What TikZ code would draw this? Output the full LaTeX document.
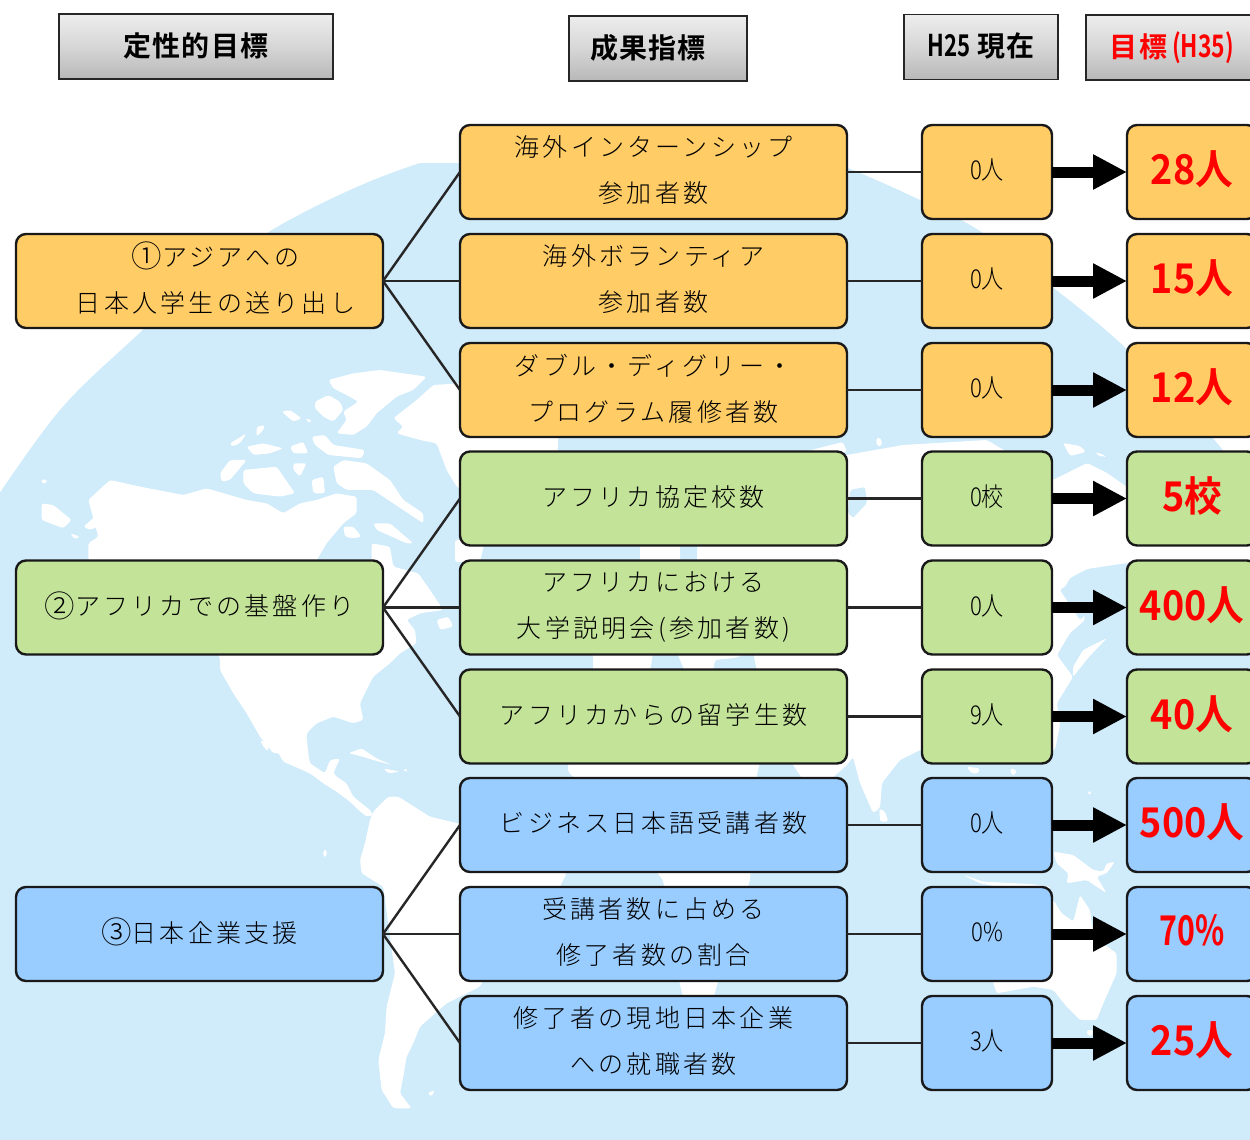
\documentclass[tikz,border=0pt]{standalone}
\usepackage{fontspec}
\usetikzlibrary{arrows.meta}
\newfontfamily\jpf[LetterSpace=13]{Noto Sans CJK JP Light}
\newfontfamily\jpb[LetterSpace=4]{Noto Sans CJK JP Bold}
\newfontfamily\dgf[FakeStretch=0.85]{Noto Sans CJK JP Light}
\newfontfamily\dgb[FakeStretch=0.92]{Noto Sans CJK JP Bold}
\newfontfamily\dgn[FakeStretch=0.74]{Noto Sans CJK JP Bold}
\newcommand{\circno}[1]{\raisebox{-1.5pt}{\scalebox{1.22}{#1}}}
\definecolor{globe}{HTML}{D0EBFA}
\definecolor{orng}{HTML}{FFCC66}
\definecolor{grn}{HTML}{C2E398}
\definecolor{blu}{HTML}{99CCFF}
\tikzset{
 land/.style={fill=white,draw=none,rounded corners=2.5pt},
 sea/.style={fill=globe,draw=none,rounded corners=2pt},
 liftup/.style={execute at end node={\vrule width 0pt height 0pt depth #1}},
 hdr/.style={draw=black!85,line width=1.8pt,top color=black!7,bottom color=black!28,middle color=black!16,inner sep=0pt,outer sep=0pt,minimum height=65pt,liftup=4.5pt,font=\jpb\fontsize{28}{32}\selectfont},
 rowbox/.style={draw=black!90,line width=2.4pt,rounded corners=10pt,inner sep=0pt,outer sep=0pt,minimum height=94pt,align=center,text=black,liftup=5pt},
 leftbox/.style={rowbox,minimum width=367pt,liftup=7.5pt,font=\jpf\fontsize{25}{46}\selectfont},
 midbox/.style={rowbox,minimum width=387pt,font=\jpf\fontsize{25}{46}\selectfont},
 curbox/.style={rowbox,minimum width=130pt,liftup=4pt,font=\dgf\fontsize{26}{30}\selectfont},
 tarbox/.style={rowbox,minimum width=130pt,text=red,font=\dgb\fontsize{41}{46}\selectfont,liftup=8pt},
 lnk/.style={draw=black!85,line width=2.4pt},
 gain/.style={draw=black,line width=11pt,-{Triangle[length=34pt,width=33pt]}}
}
\begin{document}
\begin{tikzpicture}[x=1pt,y=-1pt]
\useasboundingbox (0,0) rectangle (1250,1140);
\begin{scope}
\clip (0,163) rectangle (1250,1140);
\fill[globe] plot[smooth,tension=.6] coordinates {(-5,500) (60,410) (132,340) (200,280) (272,230) (350,190) (420,163) (500,140) (625,130) (760,140) (835,163) (920,200) (983,233) (1050,285) (1117,340) (1170,395) (1217,443) (1255,495)} -- (1255,1145) -- (-5,1145) -- cycle;
% Eurasia and Africa
\fill[land] (903,445)--(987,440)--(1053,480)--(1073,470)--(1087,463)--(1107,473)--(1127,487)--(1250,510)--(1250,565)--(1127,563)--(1087,569)--(1070,578)--(1063,590)--(1080,597)--(1085,620)--(1070,633)--(1057,655)--(1073,677)--(1057,703)--(1060,725)--(1055,750)--(920,750)--(900,760)--(882,783)--(880,808)--(873,813)--(860,783)--(853,757)--(847,765)--(830,780)--(803,780)--(790,760)--(765,740)--(757,775)--(750,880)--(717,985)--(705,1030)--(692,1030)--(680,985)--(663,880)--(600,800)--(568,772)--(570,720)--(593,672)--(593,640)--(653,610)--(697,600)--(697,548)--(720,480)--(847,455)--cycle;
\fill[land] (640,530)--(680,530)--(680,562)--(640,562)--cycle;
\fill[land] (803,452)--(843,442)--(847,452)--cycle;
\fill[land] (455,540)--(485,540)--(480,562)--(455,562)--cycle;
\fill[sea] (653,653)--(677,653)--(685,672)--(650,672)--cycle;
\fill[sea] (713,672)--(715,660)--(735,658)--(753,652)--(757,672)--cycle;
\fill[sea] (850,490)--(865,487)--(867,503)--(853,518)--(848,513)--cycle;
\fill[sea] (1060,590)--(1075,580)--(1090,570)--(1127,565)--(1127,590)--(1090,610)--(1080,620)--cycle;
% Islands north of Asia
\fill[land] (1063,443)--(1080,446)--(1086,452)--(1070,456)--cycle;
\fill[land] (1096,452)--(1106,456)--(1104,457)--(1097,455)--cycle;
\fill[land] (876,438)--(881,438)--(882,446)--(877,446)--cycle;
% Japan
\fill[land] (1073,667)--(1083,650)--(1107,638)--(1088,658)--(1073,677)--cycle;
% North America and Arctic islands, zoom coordinates
\begin{scope}[shift={(0,330)},x=0.3333pt,y=-0.3333pt]
\fill[land] (985,150)--(1060,130)--(1140,120)--(1280,140)--(1240,180)--(1190,200)--(1130,250)--(1100,290)--(1060,315)--(1010,310)--(1040,270)--(1030,245)--(1075,215)--(1040,195)--(1000,175)--cycle;
\fill[land] (945,215)--(985,195)--(1020,215)--(1030,240)--(1000,275)--(970,260)--(945,235)--cycle;
\fill[land] (1380,160)--(1300,165)--(1250,210)--(1180,265)--(1210,290)--(1190,310)--(1260,330)--(1310,340)--(1340,420)--(1370,470)--(1420,500)--(1670,430)--(1680,200)--(1500,120)--cycle;
\fill[land] (845,245)--(870,240)--(905,265)--(880,275)--cycle;
\fill[land] (915,265)--(935,270)--(930,280)--cycle;
\fill[land] (690,340)--(740,310)--(720,340)--(695,350)--cycle;
\fill[land] (770,290)--(795,285)--(790,300)--(770,320)--cycle;
\fill[land] (740,350)--(790,340)--(850,355)--(810,370)--(760,375)--cycle;
\fill[land] (870,350)--(910,335)--(925,370)--(880,370)--cycle;
\fill[land] (935,320)--(975,315)--(1000,345)--(1095,360)--(1085,385)--(985,375)--(945,345)--cycle;
\fill[land] (660,430)--(690,390)--(740,390)--(690,450)--(665,455)--cycle;
\fill[land] (730,420)--(830,410)--(885,490)--(840,500)--(760,490)--(730,460)--cycle;
\fill[land] (880,400)--(920,400)--(900,440)--(880,420)--cycle;
\fill[land] (935,450)--(970,440)--(975,490)--(940,490)--cycle;
\fill[land] (1000,410)--(1030,390)--(1100,400)--(1170,450)--(1210,510)--(1270,550)--(1270,580)--(1210,540)--(1120,480)--(1040,480)--(1010,460)--cycle;
\fill[land] (1120,580)--(1170,580)--(1240,640)--(1220,640)--(1130,600)--cycle;
\fill[land] (1030,590)--(1060,590)--(1085,620)--(1060,625)--(1035,620)--cycle;
% mainland
\fill[land] (265,510)--(330,450)--(420,470)--(550,495)--(620,475)--(740,510)--(800,520)--(850,550)--(900,520)--(950,510)--(1010,490)--(1070,500)--(1070,550)--(1030,580)--(980,640)--(950,690)--(1000,800)--(1115,760)--(1115,640)--(1170,650)--(1180,710)--(1255,730)--(1290,780)--(1330,840)--(1260,850)--(1220,870)--(1245,900)--(1250,940)--(1200,970)--(1170,1000)--(1120,1040)--(1080,1120)--(1090,1170)--(1060,1180)--(1000,1160)--(950,1180)--(920,1210)--(920,1270)--(820,1270)--(780,1220)--(740,1150)--(700,1090)--(660,1020)--(660,980)--(265,690)--(265,640)--(295,620)--cycle;
\fill[land] (1310,870)--(1345,860)--(1360,890)--(1320,900)--cycle;
\fill[land] (125,520)--(160,525)--(215,570)--(190,595)--(125,570)--cycle;
\fill[land] (210,610)--(240,620)--(225,628)--cycle;
\fill[land] (250,590)--(285,560)--(295,590)--(270,600)--cycle;
\fill[land] (125,448)--(140,448)--(140,460)--(125,460)--cycle;
\end{scope}
% Central and South America
\begin{scope}[shift={(0,740)},x=0.3333pt,y=-0.3333pt]
\fill[land] (830,-10)--(830,30)--(850,65)--(930,100)--(970,130)--(1010,155)--(1050,185)--(1070,205)--(1100,230)--(1120,225)--(1110,210)--(1060,170)--(1040,130)--(1010,110)--(1000,100)--(1020,55)--(990,60)--(975,100)--(930,70)--(925,40)--(920,-10)--cycle;
\fill[land] (780,0)--(805,10)--(805,35)--(790,20)--cycle;
\fill[land] (1045,40)--(1085,25)--(1130,55)--(1175,75)--(1120,60)--(1070,45)--cycle;
\fill[land] (1150,85)--(1200,95)--(1165,100)--cycle;
\fill[land] (1210,85)--(1225,90)--(1215,97)--cycle;
\fill[land] (970,330)--(980,330)--(980,350)--(970,350)--cycle;
\fill[land] (1110,240)--(1120,215)--(1165,170)--(1195,170)--(1290,230)--(1500,280)--(1700,400)--(1640,520)--(1500,620)--(1440,740)--(1340,790)--(1260,860)--(1240,910)--(1220,950)--(1210,1010)--(1200,1060)--(1235,1105)--(1180,1105)--(1145,1050)--(1135,960)--(1155,880)--(1160,800)--(1185,700)--(1150,440)--(1085,400)--(1080,360)--(1095,310)--cycle;
\fill[land] (1282,1060)--(1305,1050)--(1295,1070)--cycle;
\end{scope}
% India to Australia
\begin{scope}[shift={(840,740)},x=0.3333pt,y=-0.3333pt]
\fill[land] (118,205)--(135,215)--(145,245)--(120,245)--cycle;
\fill[land] (380,80)--(420,85)--(415,100)--(395,100)--cycle;
\fill[land] (510,85)--(530,90)--(525,105)--(515,105)--cycle;
\fill[land] (640,335)--(700,345)--(760,390)--(790,395)--(800,370)--(825,365)--(800,400)--(770,410)--(800,460)--(740,420)--(680,430)--(685,400)--(650,370)--cycle;
\fill[land] (370,405)--(430,425)--(570,432)--(630,440)--(630,450)--(500,445)--(420,430)--cycle;
\fill[land] (640,480)--(665,520)--(700,545)--(720,465)--(750,510)--(760,590)--(830,640)--(830,700)--(790,790)--(770,840)--(720,840)--(680,800)--(640,750)--(580,740)--(470,760)--(460,730)--(440,560)--cycle;
\fill[land] (740,870)--(760,870)--(755,890)--(742,885)--cycle;
\fill[land] (745,155)--(752,155)--(752,162)--(745,162)--cycle;
\end{scope}
\end{scope}
% headers
\node[hdr,minimum width=274pt] (h1) at (196,46.5) {定性的目標};
\node[hdr,minimum width=178pt] (h2) at (658,48.5) {成果指標\hspace*{20pt}};
\node[hdr,minimum width=154pt] (h3) at (981,47) {{\dgn\fontsize{30}{32}\selectfont H25} 現在};
\node[hdr,minimum width=172pt,text=red] (h4) at (1172,47.5) {目標{\dgn\fontsize{31}{32}\selectfont\,(H35)}};
% left boxes
\node[leftbox,fill=orng] (l1) at (199.5,281) {\hspace*{32pt}\circno{①}アジアへの\\\hspace*{32pt}日本人学生の送り出し};
\node[leftbox,fill=grn] (l2) at (199.5,607.5) {\circno{②}アフリカでの基盤作り};
\node[leftbox,fill=blu] (l3) at (199.5,934) {\circno{③}日本企業支援};
% middle boxes
\node[midbox,fill=orng] (m1) at (653.5,172) {海外インターンシップ\\参加者数};
\node[midbox,fill=orng] (m2) at (653.5,281) {海外ボランティア\\参加者数};
\node[midbox,fill=orng] (m3) at (653.5,390) {ダブル・ディグリー・\\プログラム履修者数};
\node[midbox,fill=grn] (m4) at (653.5,498.5) {アフリカ協定校数};
\node[midbox,fill=grn] (m5) at (653.5,607.5) {アフリカにおける\\大学説明会(参加者数)};
\node[midbox,fill=grn] (m6) at (653.5,716.5) {アフリカからの留学生数};
\node[midbox,fill=blu] (m7) at (653.5,825) {ビジネス日本語受講者数};
\node[midbox,fill=blu] (m8) at (653.5,934) {受講者数に占める\\修了者数の割合};
\node[midbox,fill=blu] (m9) at (653.5,1043) {修了者の現地日本企業\\への就職者数};
% current
\node[curbox,fill=orng] (c1) at (987,172) {0人};
\node[curbox,fill=orng] (c2) at (987,281) {0人};
\node[curbox,fill=orng] (c3) at (987,390) {0人};
\node[curbox,fill=grn] (c4) at (987,498.5) {0校};
\node[curbox,fill=grn] (c5) at (987,607.5) {0人};
\node[curbox,fill=grn] (c6) at (987,716.5) {9人};
\node[curbox,fill=blu] (c7) at (987,825) {0人};
\node[curbox,fill=blu] (c8) at (987,934) {0\%};
\node[curbox,fill=blu] (c9) at (987,1043) {3人};
% targets
\node[tarbox,fill=orng] (t1) at (1192,172) {28人};
\node[tarbox,fill=orng] (t2) at (1192,281) {15人};
\node[tarbox,fill=orng] (t3) at (1192,390) {12人};
\node[tarbox,fill=grn] (t4) at (1192,498.5) {5校};
\node[tarbox,fill=grn] (t5) at (1192,607.5) {400人};
\node[tarbox,fill=grn] (t6) at (1192,716.5) {40人};
\node[tarbox,fill=blu] (t7) at (1192,825) {500人};
\node[tarbox,fill=blu] (t8) at (1192,934) {{\dgn 70\%}};
\node[tarbox,fill=blu] (t9) at (1192,1043) {25人};
% connectors
\foreach \a/\b in {l1/m1,l1/m2,l1/m3,l2/m4,l2/m5,l2/m6,l3/m7,l3/m8,l3/m9}
  \draw[lnk] (\a.east) -- (\b.west);
\foreach \i in {1,...,9}{
  \draw[lnk] (m\i.east) -- (c\i.west);
  \draw[gain] (c\i.east) -- (t\i.west);
}
\end{tikzpicture}
\end{document}
